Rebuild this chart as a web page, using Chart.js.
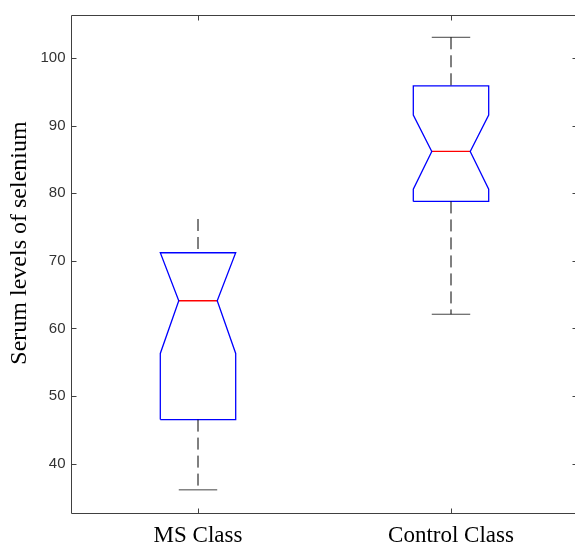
<!DOCTYPE html>
<html>
<head>
<meta charset="utf-8">
<script src="https://cdn.jsdelivr.net/npm/chart.js@4"></script>
<style>
  html, body { margin: 0; padding: 0; background: #fff; overflow: hidden; }
  #wrap { position: relative; width: 578px; height: 543px; }
</style>
</head>
<body>
<div id="wrap"><canvas id="boxChart"></canvas></div>
<script>
// values
const groups = ['MS Class', 'Control Class'];
const groupPos = [1, 2];
const lowerWhisker = [36.1, 62.1];
const q1 = [46.5, 78.8];
const notchLow = [56.3, 80.6];
const median = [64.1, 86.2];
const notchHigh = [71.2, 91.6];
const q3 = [71.2, 95.9];
const upperWhisker = [76.2, 103.1];
const hasUpperCap = [false, true];
const yTicks = [40, 50, 60, 70, 80, 90, 100];
const yLabel = 'Serum levels of selenium';

const BOX_HALF = 0.149, NOTCH_HALF = 0.076, CAP_HALF = 0.076;

function line(points, color, dash, width) {
    return {
        data: points,
        showLine: true,
        borderColor: color,
        borderWidth: width || 1,
        borderDash: dash || [],
        pointRadius: 0,
        tension: 0,
        fill: false
    };
}

const datasets = [];
groups.forEach((g, i) => {
    const x = groupPos[i];
    // whiskers (dash pattern runs top -> bottom like the original)
    datasets.push(line([{x: x, y: upperWhisker[i]}, {x: x, y: q3[i]}], '#000', [12, 6]));
    datasets.push(line([{x: x, y: q1[i]}, {x: x, y: lowerWhisker[i]}], '#000', [12, 6]));
    if (hasUpperCap[i]) {
        datasets.push(line([{x: x - CAP_HALF, y: upperWhisker[i]}, {x: x + CAP_HALF, y: upperWhisker[i]}], '#444'));
    }
    datasets.push(line([{x: x - CAP_HALF, y: lowerWhisker[i]}, {x: x + CAP_HALF, y: lowerWhisker[i]}], '#444'));
    // notched box outline
    datasets.push(line([
        {x: x - BOX_HALF, y: q1[i]}, {x: x + BOX_HALF, y: q1[i]},
        {x: x + BOX_HALF, y: notchLow[i]}, {x: x + NOTCH_HALF, y: median[i]},
        {x: x + BOX_HALF, y: notchHigh[i]}, {x: x + BOX_HALF, y: q3[i]},
        {x: x - BOX_HALF, y: q3[i]}, {x: x - BOX_HALF, y: notchHigh[i]},
        {x: x - NOTCH_HALF, y: median[i]}, {x: x - BOX_HALF, y: notchLow[i]},
        {x: x - BOX_HALF, y: q1[i]}
    ], '#0000ff', null, 1.3));
    // median
    datasets.push(line([{x: x - NOTCH_HALF, y: median[i]}, {x: x + NOTCH_HALF, y: median[i]}], '#ff0000', null, 1.3));
});

// axes box with inward ticks + y label, matlab style
const framePlugin = {
    id: 'frame',
    afterDraw(chart) {
        const {ctx, chartArea: a, scales: {x, y}} = chart;
        const L = Math.floor(a.left) + 0.5, R = Math.floor(a.right) + 0.5;
        const T = Math.floor(a.top) + 0.5, B = Math.floor(a.bottom) + 0.5;
        ctx.save();
        ctx.strokeStyle = '#404040';
        ctx.lineWidth = 1;
        ctx.beginPath();
        ctx.rect(L, T, R - L, B - T);
        yTicks.forEach(v => {
            const py = Math.round(y.getPixelForValue(v)) + 0.5;
            ctx.moveTo(L, py); ctx.lineTo(L + 5, py);
            ctx.moveTo(R - 5, py); ctx.lineTo(R, py);
        });
        groupPos.forEach(v => {
            const px = Math.round(x.getPixelForValue(v)) + 0.5;
            ctx.moveTo(px, B); ctx.lineTo(px, B - 5);
            ctx.moveTo(px, T); ctx.lineTo(px, T + 5);
        });
        ctx.stroke();

        ctx.fillStyle = '#000';
        ctx.font = '24px "Liberation Serif"';
        ctx.textAlign = 'center';
        ctx.textBaseline = 'middle';
        ctx.translate(20, 243);
        ctx.rotate(-Math.PI / 2);
        ctx.fillText(yLabel, 0, 0);
        ctx.restore();
    }
};

new Chart(document.getElementById('boxChart'), {
    type: 'scatter',
    data: { datasets: datasets },
    options: {
        responsive: true,
        maintainAspectRatio: false,
        animation: false,
        devicePixelRatio: 1,
        layout: { padding: { top: 13.5, right: 0.5, left: 0, bottom: 0 } },
        plugins: { legend: { display: false }, tooltip: { enabled: false } },
        scales: {
            x: {
                type: 'linear',
                min: 0.5,
                max: 2.5,
                grid: { display: false, drawTicks: false },
                border: { display: false },
                afterBuildTicks: (s) => { s.ticks = groupPos.map(v => ({ value: v })); },
                afterFit: (s) => { s.height = 29.5; },
                ticks: {
                    autoSkip: false,
                    maxRotation: 0,
                    padding: 9,
                    color: '#000',
                    font: { family: 'Liberation Serif', size: 23 },
                    callback: (v) => groups[groupPos.indexOf(v)]
                }
            },
            y: {
                type: 'linear',
                min: 32.6,
                max: 106.4,
                grid: { display: false, drawTicks: false },
                border: { display: false },
                afterBuildTicks: (s) => { s.ticks = yTicks.map(v => ({ value: v })); },
                afterFit: (s) => { s.width = 71.5; },
                ticks: {
                    padding: 6,
                    color: '#333',
                    font: { family: 'Liberation Sans', size: 15 }
                }
            }
        }
    },
    plugins: [framePlugin]
});
</script>
</body>
</html>
